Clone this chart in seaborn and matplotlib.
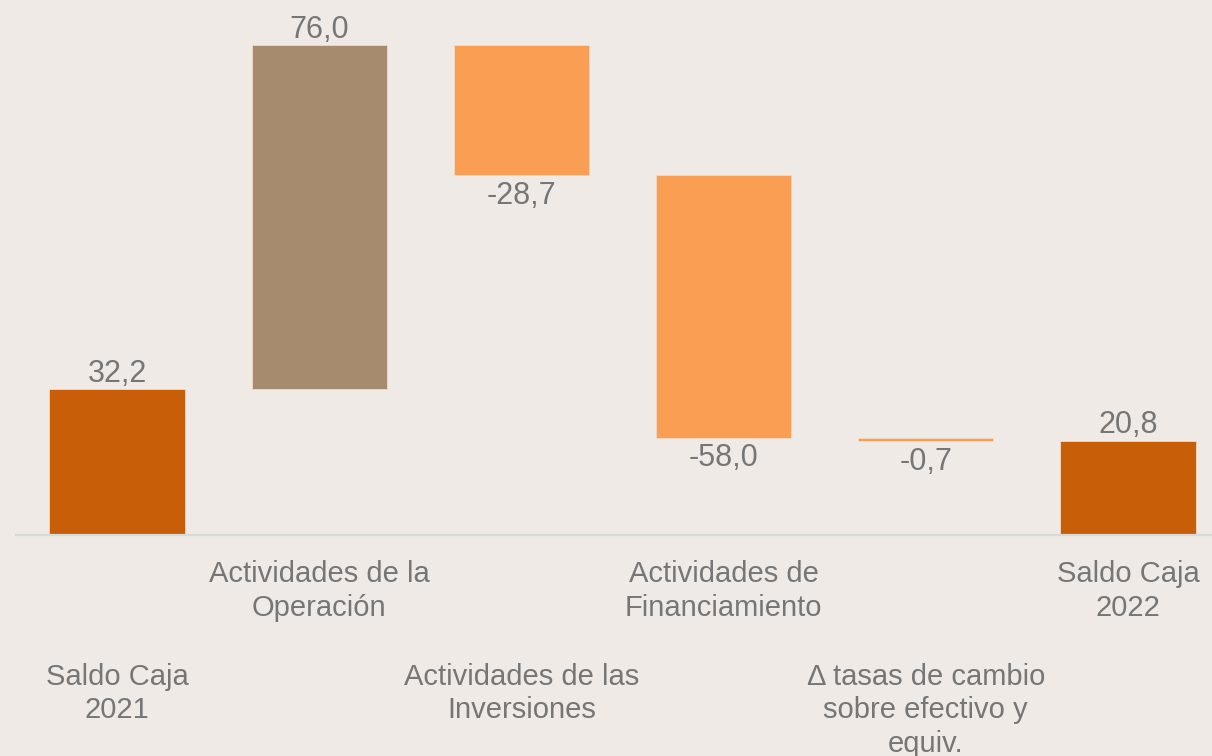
import numpy as np
import pandas as pd
import matplotlib.pyplot as plt
import seaborn as sns

# data
categories = ["Saldo Caja\n2021", "Actividades de la\nOperación", "Actividades de las\nInversiones",
              "Actividades de\nFinanciamiento", "Δ tasas de cambio\nsobre efectivo y\nequiv.",
              "Saldo Caja\n2022"]
values = [32.2, 76.0, -28.7, -58.0, -0.7, 20.8]
kinds = ["total", "up", "down", "down", "down", "total"]
labels = ["32,2", "76,0", "-28,7", "-58,0", "-0,7", "20,8"]

colors = {"total": "#C85E08", "up": "#A78B6E", "down": "#F99E53"}
bg = "#EFEAE6"
txt = "#767676"

# waterfall bottoms / tops
bottoms = []
running = 0.0
for v, k in zip(values, kinds):
    if k == "total":
        bottoms.append(0.0)
        running = v
    else:
        start = running
        running = running + v
        bottoms.append(min(start, running))
heights = [abs(v) for v in values]

df = pd.DataFrame({"cat": categories, "h": heights})

sns.set_theme(style="white")
plt.rcParams["font.family"] = ["Liberation Sans", "DejaVu Sans"]

fig = plt.figure(figsize=(12.12, 7.56), dpi=100, facecolor=bg)
ax = fig.add_axes([16 / 1212, 221 / 756, 1213 / 1212, 521 / 756])
ax.set_facecolor(bg)

sns.barplot(data=df, x="cat", y="h", hue="cat", palette=[colors[k] for k in kinds],
            legend=False, width=0.67, saturation=1, ax=ax, edgecolor="#F2D9C4", linewidth=0.6)

for p, b in zip(ax.patches, bottoms):
    p.set_y(b)

ax.set_xlim(-0.5, 5.5)
ax.set_ylim(0, 115)
ax.set_xticks([])
ax.set_yticks([])
ax.set_xlabel("")
ax.set_ylabel("")
for s in ["top", "right", "left"]:
    ax.spines[s].set_visible(False)
ax.spines["bottom"].set_color("#D9D9D9")
ax.spines["bottom"].set_linewidth(1.6)

# value labels
for i, (v, k, b, h) in enumerate(zip(values, kinds, bottoms, heights)):
    if v >= 0:
        ax.annotate(labels[i], (i, b + h), xytext=(0, 11), textcoords="offset points",
                    ha="center", va="center", fontsize=22, color=txt)
    else:
        ax.annotate(labels[i], (i, b), xytext=(0, -15), textcoords="offset points",
                    ha="center", va="center", fontsize=22, color=txt)

# staggered category labels
for i, c in enumerate(categories):
    off = -18 if i % 2 == 1 else -92
    ax.annotate(c, (i, 0), xycoords=("data", "axes fraction"), xytext=(0, off),
                textcoords="offset points", ha="center", va="top", fontsize=21,
                color=txt, linespacing=1.25)

fig.savefig("out.png", dpi=100, facecolor=bg)
